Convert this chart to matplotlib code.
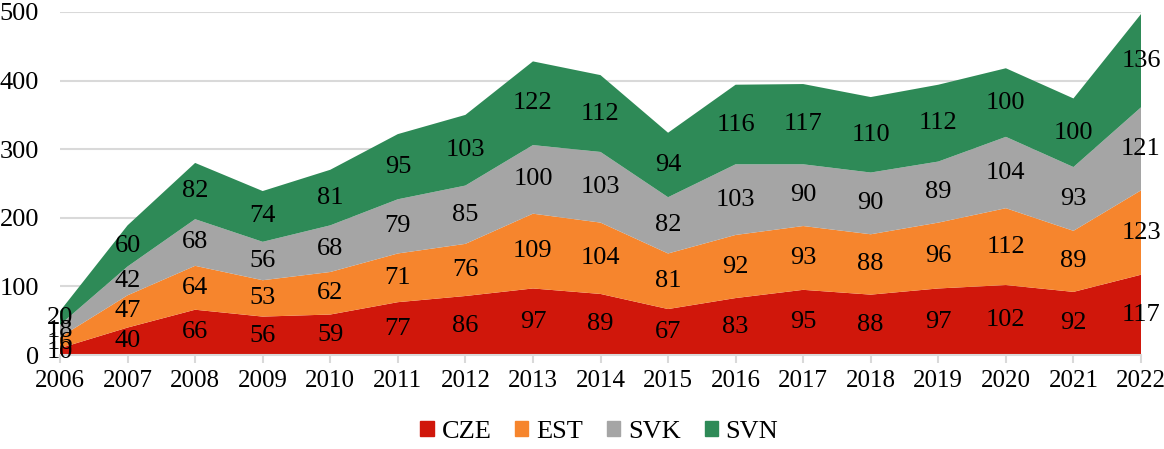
import matplotlib

matplotlib.use("Agg")
import matplotlib.pyplot as plt
import numpy as np
from matplotlib.patches import Patch

years = list(range(2006, 2023))
cze = [10, 40, 66, 56, 59, 77, 86, 97, 89, 67, 83, 95, 88, 97, 102, 92, 117]
est = [16, 47, 64, 53, 62, 71, 76, 109, 104, 81, 92, 93, 88, 96, 112, 89, 123]
svk = [18, 42, 68, 56, 68, 79, 85, 100, 103, 82, 103, 90, 90, 89, 104, 93, 121]
svn = [20, 60, 82, 74, 81, 95, 103, 122, 112, 94, 116, 117, 110, 112, 100, 100, 136]

names = ["CZE", "EST", "SVK", "SVN"]
colors = ["#d0170b", "#f6852d", "#a5a5a5", "#2e8a57"]
series = [cze, est, svk, svn]

plt.rcParams["font.family"] = ["Liberation Serif", "DejaVu Serif"]
fs = 19

fig = plt.figure(figsize=(11.64, 4.49), dpi=100)
ax = fig.add_axes([60 / 1164, 1 - 355 / 449, (1141 - 60) / 1164, (355 - 12) / 449])

x = np.array(years)
ax.stackplot(x, *series, colors=colors, zorder=2)

# data labels in the middle of each band
base = np.zeros(len(years))
for vals in series:
    vals = np.array(vals)
    for xi, b, v in zip(x, base, vals):
        ax.text(xi, b + v / 2, str(v), ha="center", va="center", fontsize=fs, zorder=3)
    base = base + vals

ax.set_xlim(2006, 2022)
ax.set_ylim(0, 500)
ax.set_yticks(range(0, 501, 100))
ax.set_xticks(years)
ax.grid(axis="y", color="#d9d9d9", linewidth=1.5, zorder=0)
for side in ["left", "right", "top"]:
    ax.spines[side].set_visible(False)
ax.spines["bottom"].set_color("#d9d9d9")
ax.spines["bottom"].set_linewidth(1.5)
ax.tick_params(axis="y", length=0, labelsize=fs, pad=15)
ax.tick_params(axis="x", length=6, color="#d9d9d9", width=1.5, labelsize=18, pad=5)

handles = [Patch(color=c, label=n) for c, n in zip(colors, names)]
fig.legend(handles=handles, loc="lower center", ncol=4, frameon=False, fontsize=fs,
           bbox_to_anchor=(0.515, -0.04), handlelength=0.5, handleheight=0.5,
           handletextpad=0.3, columnspacing=0.9)

fig.savefig("out.png", dpi=100)
plt.close(fig)
